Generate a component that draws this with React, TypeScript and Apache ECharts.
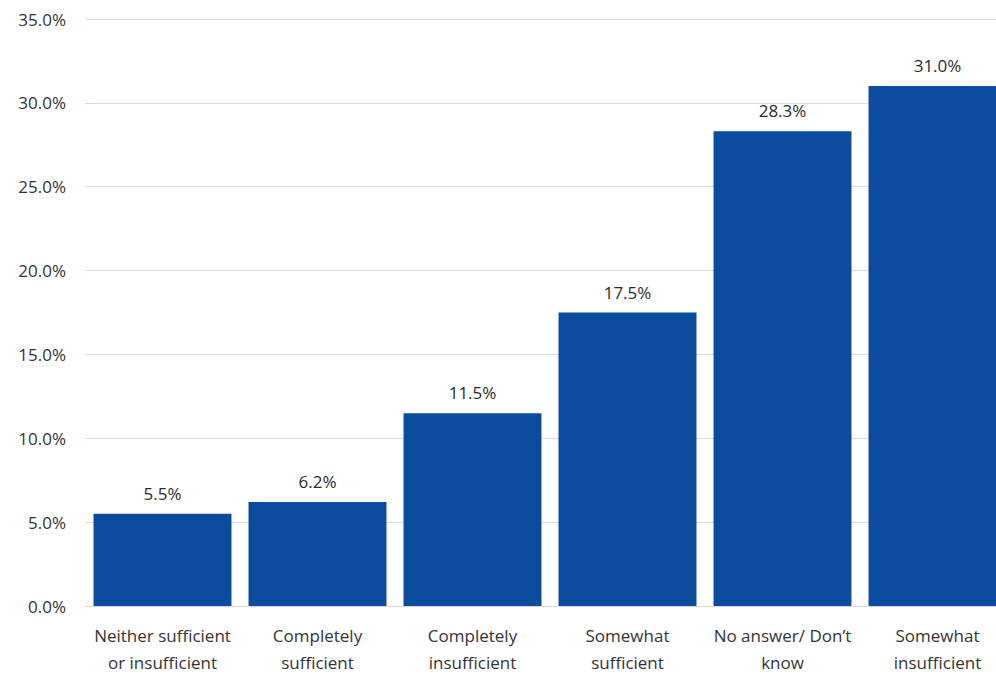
import React, { useEffect, useRef } from "react";
import * as echarts from "echarts";

const categories = [
  "Neither sufficient\nor insufficient",
  "Completely\nsufficient",
  "Completely\ninsufficient",
  "Somewhat\nsufficient",
  "No answer/ Don’t\nknow",
  "Somewhat\ninsufficient",
];
const values = [5.5, 6.2, 11.5, 17.5, 28.3, 31.0];

export default function App() {
  const ref = useRef<HTMLDivElement>(null);
  useEffect(() => {
    if (!ref.current) return;
    const chart = echarts.init(ref.current, null, { renderer: "svg" });
    const font = "'Open Sans', 'Noto Sans', sans-serif";
    chart.setOption({
      animation: false,
      grid: { left: 85, right: 0, top: 19, bottom: 67, containLabel: false },
      xAxis: {
        type: "category",
        data: categories,
        axisLine: { lineStyle: { color: "#d9d9d9", width: 1 } },
        axisTick: { show: false },
        axisLabel: {
          color: "#333333",
          fontFamily: font,
          fontSize: 17,
          lineHeight: 27,
          margin: 16,
          interval: 0,
        },
      },
      yAxis: {
        type: "value",
        min: 0,
        max: 35,
        interval: 5,
        axisLine: { show: false },
        axisTick: { show: false },
        axisLabel: {
          color: "#333333",
          fontFamily: font,
          fontSize: 17,
          margin: 19,
          formatter: (v: number) => v.toFixed(1) + "%",
        },
        splitLine: { lineStyle: { color: "#dcdce6", width: 1 } },
      },
      series: [
        {
          type: "bar",
          data: values,
          barCategoryGap: "11%",
          itemStyle: { color: "#0b4c9f" },
          label: {
            show: true,
            position: "top",
            distance: 12,
            color: "#2b2b2b",
            fontFamily: font,
            fontSize: 17,
            formatter: (p: any) => p.value.toFixed(1) + "%",
          },
        },
      ],
    });
    return () => chart.dispose();
  }, []);
  return (
    <div style={{ position: "fixed", left: 0, top: 0, width: 996, height: 676, overflow: "hidden", background: "#fff" }}>
      <div ref={ref} style={{ width: 1015, height: 676 }} />
    </div>
  );
}
